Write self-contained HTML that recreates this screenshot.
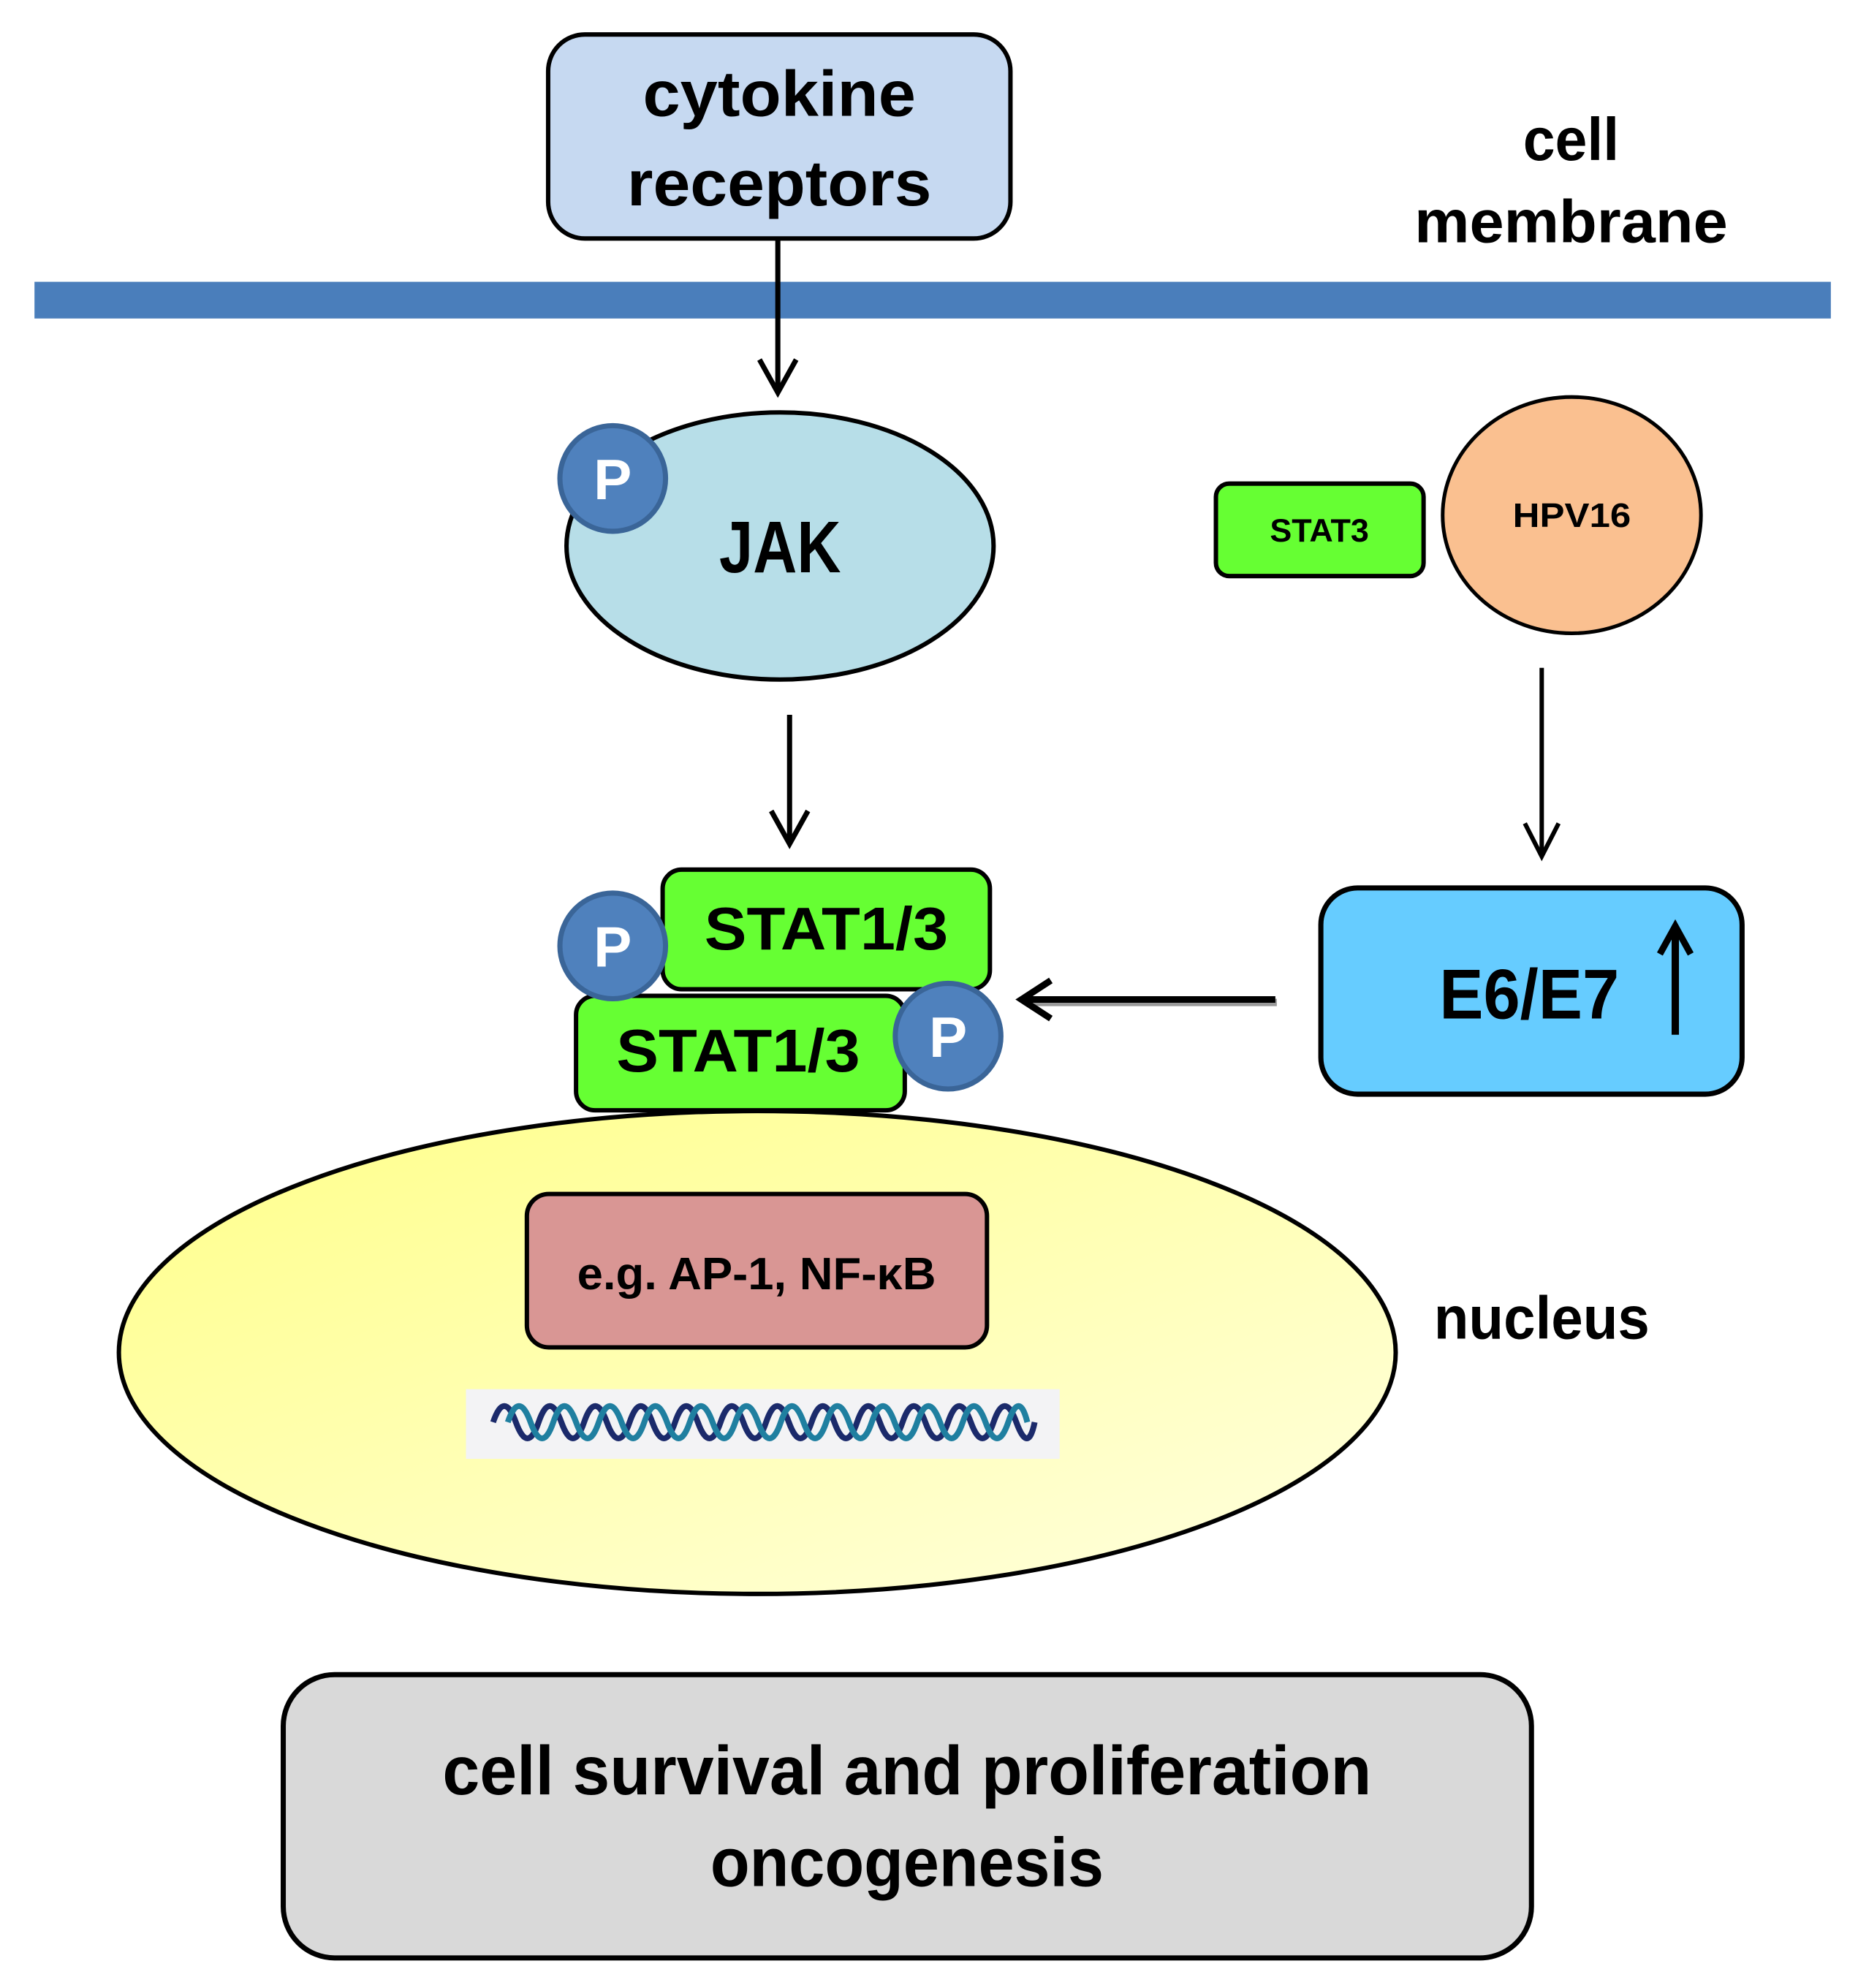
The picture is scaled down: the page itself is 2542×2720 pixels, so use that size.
<!DOCTYPE html>
<html><head><meta charset="utf-8"><style>
html,body{margin:0;padding:0;background:#fff;}
svg{display:block;}
text{font-family:"Liberation Sans",sans-serif;font-weight:bold;fill:#000;}
</style></head><body>
<svg width="2542" height="2720" viewBox="0 0 2532 2709" preserveAspectRatio="none" xmlns="http://www.w3.org/2000/svg">
<defs>
<linearGradient id="ng" x1="0" y1="0" x2="1" y2="1">
<stop offset="0" stop-color="#ffff88"/><stop offset="1" stop-color="#ffffe0"/>
</linearGradient>
</defs>
<rect x="747" y="47" width="630" height="278" rx="50" fill="#c6d9f1" stroke="#000" stroke-width="6"/>
<text x="1062" y="158" font-size="88" text-anchor="middle" textLength="372" lengthAdjust="spacingAndGlyphs">cytokine</text>
<text x="1062" y="280" font-size="88" text-anchor="middle" textLength="415" lengthAdjust="spacingAndGlyphs">receptors</text>
<text x="2141" y="218" font-size="82" text-anchor="middle" textLength="131" lengthAdjust="spacingAndGlyphs">cell</text>
<text x="2141" y="330" font-size="82" text-anchor="middle" textLength="427" lengthAdjust="spacingAndGlyphs">membrane</text>
<rect x="47" y="384" width="2448" height="50" fill="#4a7ebb"/>
<line x1="1060" y1="325" x2="1060" y2="530" stroke="#000" stroke-width="7"/>
<polyline points="1035,490 1060,535 1085,490" fill="none" stroke="#000" stroke-width="7"/>
<ellipse cx="1063" cy="744" rx="291" ry="182" fill="#b7dee8" stroke="#000" stroke-width="6"/>
<circle cx="835" cy="652" r="72" fill="#4f81bd" stroke="#3a6598" stroke-width="7"/>
<text x="835" y="680" font-size="78" text-anchor="middle" style="fill:#fff">P</text>
<text x="1063" y="780" font-size="100" text-anchor="middle" textLength="166" lengthAdjust="spacingAndGlyphs">JAK</text>
<rect x="1657" y="659" width="283" height="126" rx="18" fill="#66ff33" stroke="#000" stroke-width="6"/>
<text x="1798" y="738" font-size="44" text-anchor="middle" textLength="135" lengthAdjust="spacingAndGlyphs">STAT3</text>
<ellipse cx="2142" cy="702" rx="176" ry="161" fill="#fac090" stroke="#000" stroke-width="5"/>
<text x="2142" y="718" font-size="46" text-anchor="middle" textLength="161" lengthAdjust="spacingAndGlyphs">HPV16</text>
<line x1="1076" y1="974" x2="1076" y2="1145" stroke="#000" stroke-width="7"/>
<polyline points="1051,1105 1076,1150 1101,1105" fill="none" stroke="#000" stroke-width="7"/>
<line x1="2101" y1="910" x2="2101" y2="1162" stroke="#000" stroke-width="6"/>
<polyline points="2078,1122 2101,1167 2124,1122" fill="none" stroke="#000" stroke-width="6"/>
<rect x="1800" y="1210" width="574" height="281" rx="50" fill="#66ccff" stroke="#000" stroke-width="7"/>
<text x="2084" y="1388" font-size="96" text-anchor="middle" textLength="245" lengthAdjust="spacingAndGlyphs">E6/E7</text>
<line x1="2283" y1="1268" x2="2283" y2="1410" stroke="#000" stroke-width="10"/>
<polyline points="2262,1300 2283,1262 2304,1300" fill="none" stroke="#000" stroke-width="9"/>
<line x1="1740" y1="1366" x2="1400" y2="1366" stroke="#999" stroke-width="10"/>
<line x1="1738" y1="1362" x2="1396" y2="1362" stroke="#000" stroke-width="9"/>
<polyline points="1432,1336 1392,1362 1432,1388" fill="none" stroke="#000" stroke-width="9"/>
<ellipse cx="1032" cy="1843" rx="870" ry="329" fill="url(#ng)" stroke="#000" stroke-width="6"/>
<text x="1954" y="1824" font-size="82" textLength="294" lengthAdjust="spacingAndGlyphs">nucleus</text>
<rect x="785" y="1357" width="448" height="156" rx="26" fill="#66ff33" stroke="#000" stroke-width="6"/>
<rect x="903" y="1185" width="446" height="163" rx="26" fill="#66ff33" stroke="#000" stroke-width="6"/>
<text x="1126" y="1294" font-size="82" text-anchor="middle" textLength="332" lengthAdjust="spacingAndGlyphs">STAT1/3</text>
<text x="1006" y="1460" font-size="82" text-anchor="middle" textLength="332" lengthAdjust="spacingAndGlyphs">STAT1/3</text>
<circle cx="835" cy="1289" r="72" fill="#4f81bd" stroke="#3a6598" stroke-width="7"/>
<text x="835" y="1317" font-size="78" text-anchor="middle" style="fill:#fff">P</text>
<circle cx="1292" cy="1412" r="72" fill="#4f81bd" stroke="#3a6598" stroke-width="7"/>
<text x="1292" y="1440" font-size="78" text-anchor="middle" style="fill:#fff">P</text>
<rect x="718" y="1627" width="627" height="209" rx="30" fill="#d99694" stroke="#000" stroke-width="6"/>
<text x="1031" y="1757" font-size="62" text-anchor="middle" textLength="489" lengthAdjust="spacingAndGlyphs">e.g. AP-1, NF-κB</text>
<rect x="635" y="1893" width="809" height="95" fill="#f3f3f5"/>
<path d="M672,1938 Q687,1894 703,1938 T734,1938 T765,1938 T796,1938 T827,1938 T858,1938 T889,1938 T920,1938 T951,1938 T982,1938 T1013,1938 T1044,1938 T1075,1938 T1106,1938 T1137,1938 T1168,1938 T1199,1938 T1230,1938 T1261,1938 T1292,1938 T1323,1938 T1354,1938 T1385,1938 T1410,1938" fill="none" stroke="#1b2a6b" stroke-width="8"/>
<path d="M692,1938 Q707,1894 723,1938 T754,1938 T785,1938 T816,1938 T847,1938 T878,1938 T909,1938 T940,1938 T971,1938 T1002,1938 T1033,1938 T1064,1938 T1095,1938 T1126,1938 T1157,1938 T1188,1938 T1219,1938 T1250,1938 T1281,1938 T1312,1938 T1343,1938 T1374,1938 T1400,1938" fill="none" stroke="#1f7fa0" stroke-width="8"/>
<rect x="386" y="2282" width="1701" height="386" rx="70" fill="#d9d9d9" stroke="#000" stroke-width="7"/>
<text x="1236" y="2445" font-size="94" text-anchor="middle" textLength="1266" lengthAdjust="spacingAndGlyphs">cell survival and proliferation</text>
<text x="1236" y="2570" font-size="94" text-anchor="middle" textLength="536" lengthAdjust="spacingAndGlyphs">oncogenesis</text>
</svg>
</body></html>
